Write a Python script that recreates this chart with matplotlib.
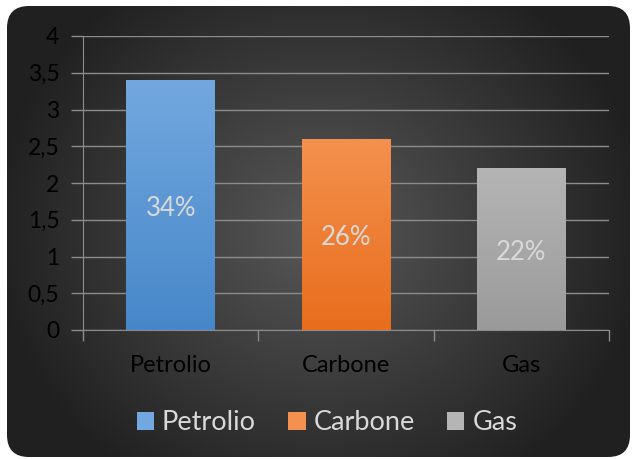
import numpy as np
import matplotlib
matplotlib.use("Agg")
import matplotlib.pyplot as plt
from matplotlib.patches import FancyBboxPatch, Patch
from matplotlib.colors import LinearSegmentedColormap

categories = ["Petrolio", "Carbone", "Gas"]
values = [3.4, 2.6, 2.2]
labels = ["34%", "26%", "22%"]
yticks = [0, 0.5, 1, 1.5, 2, 2.5, 3, 3.5, 4]
yticklabels = ["0", "0,5", "1", "1,5", "2", "2,5", "3", "3,5", "4"]
top_colors = ["#72a8df", "#f4914e", "#b5b5b5"]
bottom_colors = ["#4787c9", "#e86d1c", "#9a9a9a"]

plt.rcParams['font.family'] = ['Lato', 'DejaVu Sans']

W, H = 634, 459
fig = plt.figure(figsize=(W / 100, H / 100), dpi=100)
fig.patch.set_facecolor("white")

# background panel with radial gradient
bg = fig.add_axes([0, 0, 1, 1])
bg.set_xlim(0, W)
bg.set_ylim(H, 0)
bg.axis("off")
yy, xx = np.mgrid[0:H, 0:W]
cx, cy = 320, 230
r = np.sqrt(((xx - cx) / 330) ** 2 + ((yy - cy) / 300) ** 2)
r = np.clip(r, 0, 1)
c0 = np.array([0x58, 0x58, 0x58]) / 255
c1 = np.array([0x20, 0x20, 0x20]) / 255
img = c0[None, None, :] * (1 - r[..., None]) + c1[None, None, :] * r[..., None]
panel = FancyBboxPatch((7 + 22, 6 + 22), 623 - 44, 451 - 44,
                       boxstyle="round,pad=22", facecolor="none", edgecolor="none")
bg.add_patch(panel)
im = bg.imshow(img, extent=(0, W, H, 0), aspect="auto", zorder=0)
im.set_clip_path(panel)

# main axes
x0, x1 = 83, 609
ytop, ybot = 36, 330
ax = fig.add_axes([x0 / W, 1 - ybot / H, (x1 - x0) / W, (ybot - ytop) / H])
ax.patch.set_alpha(0)
xpos = np.arange(len(categories))
bars = ax.bar(xpos, values, width=0.505, color=top_colors, zorder=3, edgecolor="none")
ax.set_xlim(-0.5, 2.5)
ax.set_ylim(0, 4)
ax.set_yticks(yticks)
ax.set_yticklabels(yticklabels, fontsize=16.5, color="black")
ax.set_xticks(xpos)
ax.set_xticklabels(categories, fontsize=17, color="black")
ax.tick_params(axis="y", length=9, color="#8c8c8c", width=1, pad=8)
ax.tick_params(axis="x", length=0, pad=18)
ax.set_xticks([-0.5, 0.5, 1.5, 2.5], minor=True)
ax.tick_params(axis="x", which="minor", length=8, color="#8c8c8c", width=1)
ax.grid(axis="y", color="#8c8c8c", linewidth=1, zorder=1)
for s in ["top", "right"]:
    ax.spines[s].set_visible(False)
ax.spines["left"].set_color("#8c8c8c")
ax.spines["bottom"].set_color("#8c8c8c")
ax.spines["left"].set_zorder(2)

# gradients on bars
for b, tc, bc in zip(bars, top_colors, bottom_colors):
    cmap = LinearSegmentedColormap.from_list("g", [bc, tc])
    grad = np.linspace(0, 1, 256).reshape(-1, 1)
    x, w, h = b.get_x(), b.get_width(), b.get_height()
    gi = ax.imshow(grad, cmap=cmap, extent=(x, x + w, 0, h), origin="lower",
                   aspect="auto", zorder=4)
    gi.set_clip_path(b)
ax.set_xlim(-0.5, 2.5)
ax.set_ylim(0, 4)

for i, (v, lab) in enumerate(zip(values, labels)):
    ax.annotate(lab, (i, v / 2), xytext=(0, -2.5), textcoords="offset points",
                ha="center", va="center", color="#d9d9d9", fontsize=18.5, zorder=5)

handles = [Patch(facecolor=c, edgecolor="none") for c in top_colors]
fig.legend(handles, categories, loc="center", bbox_to_anchor=(0.516, 1 - 423 / H),
           ncol=3, frameon=False, fontsize=19.5, labelcolor="#d9d9d9",
           handlelength=0.63, handleheight=0.63, handletextpad=0.3, columnspacing=1.2)

fig.savefig("out.png", dpi=100, facecolor="white")
